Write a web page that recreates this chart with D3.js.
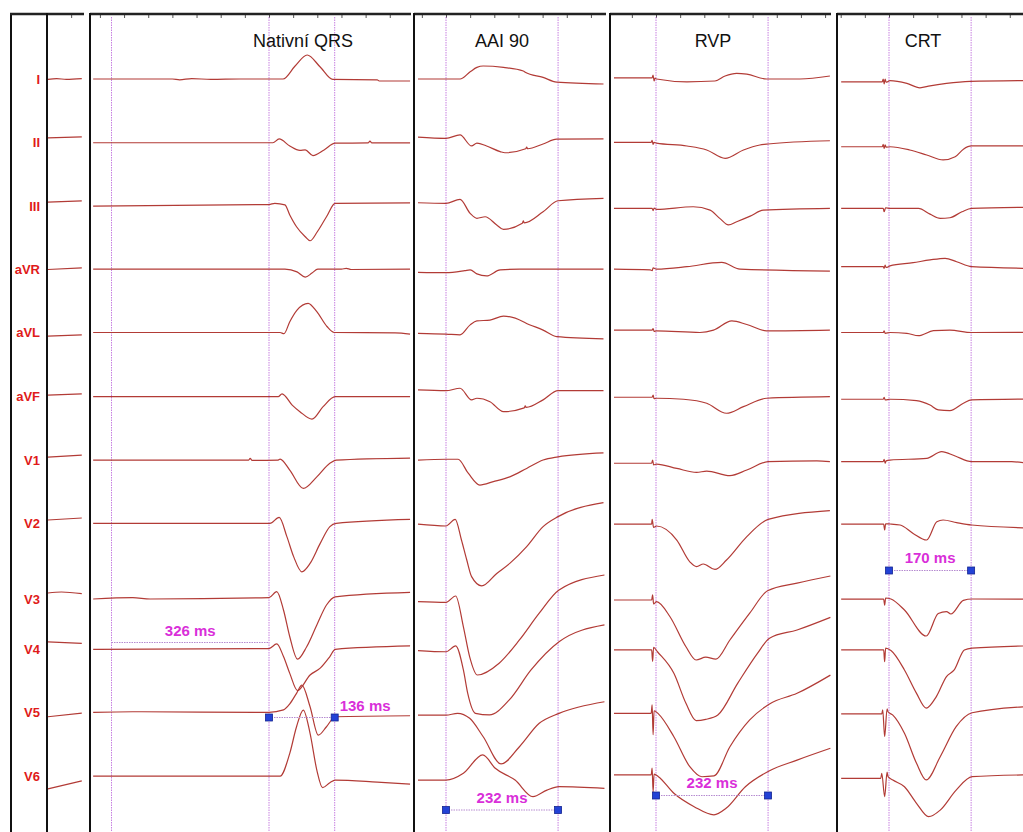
<!DOCTYPE html>
<html>
<head>
<meta charset="utf-8">
<script src="https://cdn.jsdelivr.net/npm/d3@7"></script>
<style>
  body { margin: 0; background: #fff; }
  svg { display: block; }
</style>
</head>
<body>
<svg id="chart" width="1023" height="832"></svg>
<script>
// ---- data -------------------------------------------------------------
// Lead names, top to bottom
const leads = ["I", "II", "III", "aVR", "aVL", "aVF", "V1", "V2", "V3", "V4", "V5", "V6"];

// Panel headings (first panel is the short rhythm strip, untitled)
const panelTitles = ["", "Nativní QRS", "AAI 90", "RVP", "CRT"];

// Each trace: [time in ms, amplitude in mV], one trace per lead, in lead order
const rhythmStrip = [
  [[2, -0.01], [20, 0.01], [40, -0.01], [72, 0.01]],
  [[2, 0.11], [72, 0.135]],
  [[2, 0.09], [72, 0.12]],
  [[2, -0.01], [72, 0.03]],
  [[2, -0.09], [72, -0.06]],
  [[2, 0.02], [72, 0.05]],
  [[2, 0.055], [72, 0.105]],
  [[2, 0.065], [72, 0.115]],
  [[2, -0.175], [30, -0.15], [72, -0.19]],
  [[2, 0.185], [72, 0.15]],
  [[2, -0.1], [72, -0.01]],
  [[2, -0.32], [72, -0.12]]
];

const nativeQRS = [
  [[-364, 0], [-200, 0], [-185, -0.02], [-160, 0.01], [-120, -0.01], [-60, 0], [29, 0], [54, 0.325], [79, 0.6], [106, 0.3], [132, -0.01], [224, -0.02], [228, -0.05], [292, -0.05]],
  [[-364, -0.01], [8, -0.01], [21, 0.085], [43, -0.09], [64, -0.2], [75, -0.19], [91, -0.33], [114, -0.19], [137, -0.02], [205, -0.015], [209, 0.03], [213, -0.015], [292, -0.015]],
  [[-364, -0.01], [0, 0.03], [12, 0.06], [33, 0.02], [43, -0.23], [57, -0.525], [75, -0.775], [85, -0.875], [100, -0.65], [119, -0.275], [137, 0.06], [292, 0.07]],
  [[-364, 0], [33, 0], [58, -0.07], [75, -0.2], [89, -0.1], [101, 0], [150, 0], [160, 0.02], [170, -0.01], [292, 0]],
  [[-364, 0], [23, 0], [31, -0.03], [43, 0.27], [58, 0.56], [81, 0.73], [99, 0.52], [120, 0.15], [135, 0], [261, -0.01], [292, -0.04]],
  [[-364, -0.02], [19, -0.02], [27, 0.05], [48, -0.23], [64, -0.395], [89, -0.58], [112, -0.27], [137, -0.02], [292, -0.02]],
  [[-364, -0.02], [-42, -0.02], [-39, 0.02], [-35, -0.03], [19, -0.02], [23, 0.005], [43, -0.27], [71, -0.73], [99, -0.44], [126, -0.1], [139, -0.02], [292, 0.03]],
  [[-364, -0.02], [2, -0.02], [21, 0.13], [37, -0.35], [51, -0.85], [68, -1.23], [85, -1.02], [106, -0.52], [126, -0.1], [139, -0.02], [292, 0.08]],
  [[-364, -0.325], [-282, -0.29], [-246, -0.325], [0, -0.29], [16, -0.14], [30, -0.6], [43, -1.27], [59, -1.83], [78, -1.52], [99, -0.975], [119, -0.475], [137, -0.27], [292, -0.16]],
  [[-364, 0], [0, 0.02], [16, 0.135], [30, -0.18], [43, -0.6], [59, -1.03], [85, -0.64], [106, -0.47], [126, -0.18], [137, 0], [292, 0.085]],
  [[-364, 0.01], [-282, 0.025], [0, 0.01], [30, 0.07], [43, 0.22], [57, 0.485], [68, 0.69], [85, 0.15], [102, -0.56], [119, -0.35], [137, -0.1], [292, -0.075]],
  [[-364, 0], [23, 0], [43, 0.57], [57, 1.235], [71, 1.65], [85, 1.07], [99, 0.15], [111, -0.29], [126, -0.165], [137, -0.1], [224, -0.15], [292, -0.2]]
];

const aai90 = [
  [[-58, 0], [0, 0], [29, 0], [50, 0.18], [64, 0.29], [77, 0.325], [119, 0.29], [160, 0.2], [164, 0.17], [201, 0.04], [229, -0.08], [326, -0.125]],
  [[-58, 0.13], [0, 0.1], [29, 0.185], [53, -0.09], [64, -0.02], [84, -0.09], [112, -0.23], [122, -0.26], [165, -0.16], [167, -0.12], [169, -0.16], [201, -0.04], [229, 0.08], [326, 0.085]],
  [[-58, 0.075], [0, 0.06], [29, 0.16], [50, -0.19], [64, -0.315], [81, -0.275], [105, -0.48], [119, -0.59], [158, -0.44], [160, -0.38], [162, -0.43], [201, -0.15], [232, 0.125], [326, 0.185]],
  [[-58, -0.08], [0, -0.09], [39, -0.04], [50, -0.02], [64, -0.12], [84, -0.17], [112, -0.02], [153, 0], [326, 0]],
  [[-58, -0.02], [0, -0.04], [29, -0.06], [50, 0.19], [64, 0.29], [91, 0.31], [119, 0.41], [160, 0.27], [164, 0.245], [201, 0.06], [229, -0.105], [326, -0.16]],
  [[-58, 0.15], [0, 0.13], [29, 0.19], [53, -0.1], [64, -0.06], [91, -0.145], [119, -0.395], [162, -0.3], [164, -0.25], [166, -0.29], [201, -0.1], [232, 0.13], [326, 0.13]],
  [[-58, -0.02], [0, 0], [25, 0], [46, -0.35], [70, -0.645], [98, -0.56], [132, -0.44], [167, -0.23], [201, -0.02], [232, 0.06], [326, 0.16]],
  [[-58, -0.04], [0, -0.085], [19, 0.08], [32, -0.435], [43, -0.935], [53, -1.35], [74, -1.58], [105, -1.27], [132, -1.02], [167, -0.6], [201, -0.1], [232, 0.15], [326, 0.5]],
  [[-58, -0.39], [0, -0.41], [20, -0.25], [36, -1.02], [49, -1.77], [65, -2.225], [110, -1.93], [152, -1.35], [193, -0.68], [234, -0.1], [328, 0.275]],
  [[-58, -0.03], [0, -0.06], [20, 0.085], [36, -0.515], [45, -1.1], [61, -1.6], [90, -1.64], [131, -1.265], [176, -0.515], [234, 0.19], [328, 0.61]],
  [[-58, -0.06], [0, -0.06], [24, -0.015], [49, -0.14], [77, -0.6], [114, -1.28], [152, -0.85], [193, -0.265], [234, -0.015], [328, 0.275]],
  [[-58, -0.1], [0, -0.1], [36, 0.07], [76, 0.53], [102, 0.195], [143, -0.1], [180, -0.515], [209, -0.35], [234, -0.265], [328, -0.305]]
];

const rvp = [
  [[-87, 0.03], [-8, 0.03], [-6, 0.1], [-4, -0.05], [-2, 0.02], [1, 0], [64, -0.07], [122, -0.05], [143, 0.075], [167, 0.14], [188, 0.12], [229, 0], [298, 0], [360, 0.075]],
  [[-87, 0], [-10, 0], [-8, 0.05], [-6, -0.05], [-4, 0], [1, -0.02], [64, -0.09], [105, -0.19], [143, -0.4], [181, -0.19], [215, -0.065], [232, -0.04], [360, 0.04]],
  [[-87, -0.065], [-8, -0.065], [-6, -0.12], [-4, -0.06], [1, -0.09], [77, -0.025], [112, -0.11], [132, -0.315], [150, -0.48], [167, -0.4], [195, -0.26], [222, -0.11], [360, -0.065]],
  [[-87, 0], [-12, -0.02], [-8, -0.04], [-6, 0.03], [1, 0], [64, 0.06], [136, 0.17], [174, 0], [360, -0.05]],
  [[-87, 0.06], [-8, 0.06], [-6, 0.1], [-4, 0.03], [1, 0.04], [91, 0], [119, 0.06], [157, 0.29], [188, 0.2], [229, 0.04], [360, 0.06]],
  [[-87, -0.035], [-8, -0.035], [-6, 0.02], [-4, -0.07], [1, -0.06], [57, -0.085], [105, -0.185], [146, -0.435], [181, -0.27], [229, -0.06], [360, -0.02]],
  [[-87, -0.1], [-9, -0.1], [-7, -0.02], [-5, -0.14], [1, -0.12], [43, -0.23], [84, -0.33], [105, -0.295], [153, -0.41], [188, -0.27], [232, -0.06], [333, -0.04], [360, -0.06]],
  [[-87, -0.04], [-9, -0.04], [-8, 0.08], [-5, -0.12], [1, -0.085], [43, -0.435], [70, -0.98], [84, -1.1], [98, -1.035], [122, -1.17], [146, -0.935], [188, -0.35], [232, 0.08], [360, 0.3]],
  [[-87, -0.35], [-9, -0.35], [-7, -0.22], [-5, -0.45], [1, -0.39], [29, -0.77], [62, -1.52], [83, -1.85], [103, -1.78], [124, -1.83], [153, -1.35], [194, -0.68], [231, -0.12], [292, 0.07], [361, 0.25]],
  [[-87, -0.015], [-9, -0.015], [-7, -0.3], [-5, 0.05], [3, -0.06], [37, -0.6], [62, -1.35], [83, -1.78], [103, -1.75], [128, -1.64], [169, -0.85], [210, -0.1], [235, 0.28], [292, 0.485], [361, 0.8]],
  [[-87, -0.015], [-10, -0.015], [-8, 0.2], [-6, -0.55], [-4, 0.05], [5, -0.03], [37, -0.6], [70, -1.35], [95, -1.6], [120, -1.58], [153, -0.85], [194, -0.18], [235, 0.22], [292, 0.485], [361, 0.94]],
  [[-87, 0.03], [-10, 0.03], [-8, 0.2], [-6, -0.4], [-4, 0.05], [5, -0.015], [37, -0.43], [79, -0.765], [120, -0.97], [145, -0.805], [185, -0.265], [235, 0.135], [292, 0.4], [361, 0.695]]
];

const crt = [
  [[-99, -0.07], [-14, -0.07], [-12, 0], [-10, -0.12], [-8, 0], [-6, -0.08], [2, -0.04], [37, -0.11], [64, -0.22], [85, -0.17], [119, -0.11], [168, -0.06], [280, -0.04]],
  [[-99, -0.11], [-14, -0.11], [-12, -0.05], [-10, -0.15], [-8, -0.06], [-6, -0.12], [2, -0.11], [43, -0.19], [78, -0.315], [112, -0.44], [137, -0.36], [154, -0.17], [171, -0.09], [280, -0.09]],
  [[-99, -0.065], [-12, -0.065], [-10, -0.15], [-7, -0.05], [2, -0.065], [61, -0.065], [85, -0.21], [106, -0.315], [126, -0.3], [151, -0.15], [171, -0.065], [280, -0.04]],
  [[-99, 0.06], [-12, 0.06], [-10, 0.02], [-8, 0.1], [-6, 0.04], [2, 0.08], [50, 0.16], [85, 0.23], [116, 0.27], [140, 0.185], [171, 0.06], [280, 0.02]],
  [[-99, 0], [-12, 0], [-10, 0.04], [-8, -0.02], [2, 0], [37, -0.02], [61, -0.08], [92, 0.045], [126, 0.06], [171, 0], [280, 0.005]],
  [[-99, -0.085], [-12, -0.085], [-10, -0.04], [-8, -0.1], [2, -0.085], [57, -0.12], [85, -0.23], [102, -0.35], [126, -0.37], [154, -0.185], [171, -0.1], [280, -0.08]],
  [[-99, -0.06], [-12, -0.06], [-10, 0], [-8, -0.1], [-6, -0.04], [2, -0.02], [78, 0.02], [109, 0.19], [137, 0.08], [171, -0.06], [254, -0.06], [280, -0.09]],
  [[-99, -0.04], [-11, -0.04], [-9, -0.185], [-7, -0.03], [2, -0.035], [23, -0.06], [50, -0.27], [78, -0.435], [99, 0.02], [112, 0.065], [140, 0], [171, -0.06], [280, -0.13]],
  [[-99, -0.33], [-11, -0.33], [-9, -0.48], [-7, -0.3], [4, -0.325], [32, -0.6], [77, -1.25], [102, -0.69], [119, -0.64], [128, -0.7], [154, -0.36], [172, -0.325], [280, -0.33]],
  [[-99, -0.015], [-11, -0.015], [-9, -0.31], [-7, 0.03], [4, -0.03], [32, -0.515], [57, -1.1], [77, -1.47], [98, -1.18], [119, -0.68], [135, -0.515], [156, -0.015], [172, 0.03], [280, 0.085]],
  [[-99, -0.03], [-15, -0.03], [-13, 0.07], [-9, -0.6], [-4, 0.1], [-2, 0.025], [8, -0.06], [32, -0.515], [57, -1.265], [77, -1.68], [106, -1.1], [139, -0.35], [172, 0], [280, 0.15]],
  [[-99, -0.055], [-17, -0.055], [-15, 0.07], [-9, -0.515], [-4, 0.1], [-2, -0.015], [8, -0.1], [32, -0.265], [57, -0.68], [82, -1.015], [106, -0.85], [139, -0.35], [172, -0.015], [280, 0.03]]
];

// Cursor times (ms) per panel and measured intervals [start, end] in ms
const cursorTimes = [[], [-326, 0, 136], [0, 232], [0, 232], [0, 170]];
const intervals = [[], [[-326, 0], [0, 136]], [[0, 232]], [[0, 232]], [[0, 170]]];

// ---- layout -----------------------------------------------------------
const MS_PER_PX = 2.07;
const TOP = 14;
const H = 832;
const panels = [
  { left: 47, right: 84, origin: 47, traces: rhythmStrip },
  { left: 90, right: 411, origin: 269, traces: nativeQRS },
  { left: 414, right: 606, origin: 446, traces: aai90 },
  { left: 610, right: 831, origin: 656, traces: rvp },
  { left: 837, right: 1023, origin: 889, traces: crt }
];
const titleX = [0, 303, 502, 713, 923];
// Placement of each interval annotation: line y, label y, label anchor, end markers
const intervalStyle = [
  [],
  [{ y: 642.5, ly: 636, anchor: "middle", boxes: false },
   { y: 717.5, ly: 711, anchor: "start", boxes: true }],
  [{ y: 810, ly: 803, anchor: "middle", boxes: true }],
  [{ y: 795.5, ly: 788, anchor: "middle", boxes: true }],
  [{ y: 570.5, ly: 563, anchor: "middle", boxes: true }]
];

const TRACE = "#b23b36";
const LEAD_RED = "#e01a1a";
const CURSOR = "#c77fe0";
const MAGENTA = "#d92fd9";
const BOX = "#2342d6";

const svg = d3.select("#chart");

const row = d3.scalePoint().domain(leads).range([79, 776.1]);
const amp = d3.scaleLinear().domain([0, 1]).range([0, -40]);

panels.forEach(p => {
  p.x = d3.scaleLinear()
    .domain([(p.left - p.origin) * MS_PER_PX, (p.right - p.origin) * MS_PER_PX])
    .range([p.left, p.right]);
});

// frame of the lead-label column
const frameG = svg.append("g");
frameG.append("line").attr("x1", 11).attr("x2", 11).attr("y1", TOP - 1).attr("y2", H)
  .attr("stroke", "#111").attr("stroke-width", 2);
frameG.append("line").attr("x1", 10).attr("x2", 47).attr("y1", TOP).attr("y2", TOP)
  .attr("stroke", "#222").attr("stroke-width", 2.5);

panels.forEach((p, pi) => {
  const g = svg.append("g");
  // tick marks along the top edge
  const [d0, d1] = p.x.domain();
  const step = 50;
  const ticks = d3.range(Math.ceil(d0 / step) * step, d1 + 0.01, step);
  const axis = d3.axisBottom(p.x).tickValues(ticks).tickFormat("").tickSize(4).tickSizeOuter(0);
  const ax = g.append("g").attr("transform", `translate(0,${TOP})`).call(axis);
  ax.select(".domain").remove();
  ax.selectAll(".tick line").attr("stroke", "#555").attr("stroke-width", 1);
  g.append("line").attr("x1", p.left).attr("x2", p.right).attr("y1", TOP).attr("y2", TOP)
    .attr("stroke", "#222").attr("stroke-width", 2.5);
  g.append("line").attr("x1", p.left).attr("x2", p.left).attr("y1", TOP - 1).attr("y2", H)
    .attr("stroke", "#111").attr("stroke-width", 2);

  // cursor lines
  g.selectAll(".cursor").data(cursorTimes[pi]).join("line")
    .attr("class", "cursor")
    .attr("x1", d => p.x(d)).attr("x2", d => p.x(d))
    .attr("y1", TOP + 3).attr("y2", H)
    .attr("stroke", CURSOR).attr("stroke-width", 1).attr("stroke-dasharray", "1.5,1");

  // traces
  const line = d3.line().curve(d3.curveMonotoneX);
  p.traces.forEach((tr, li) => {
    const base = row(leads[li]);
    g.append("path")
      .attr("d", line(tr.map(d => [p.x(d[0]), base + amp(d[1])])))
      .attr("fill", "none").attr("stroke", TRACE).attr("stroke-width", 1.2)
      .attr("stroke-linejoin", "round");
  });

  // title
  if (panelTitles[pi]) {
    g.append("text").attr("x", titleX[pi]).attr("y", 47)
      .attr("text-anchor", "middle")
      .attr("font-family", "Liberation Sans, Arial, sans-serif")
      .attr("font-size", 18).attr("fill", "#111").text(panelTitles[pi]);
  }

  // interval measurements
  intervals[pi].forEach((iv, k) => {
    const st = intervalStyle[pi][k];
    const xa = p.x(iv[0]), xb = p.x(iv[1]);
    g.append("line").attr("x1", xa).attr("x2", xb).attr("y1", st.y).attr("y2", st.y)
      .attr("stroke", "#b58ad0").attr("stroke-width", 1).attr("stroke-dasharray", "1.5,1");
    if (st.boxes) {
      [xa, xb].forEach(xx => {
        g.append("rect").attr("x", xx - 3.5).attr("y", st.y - 3.5).attr("width", 7).attr("height", 7)
          .attr("fill", BOX).attr("stroke", "#14258f").attr("stroke-width", 0.8);
      });
    }
    const lx = st.anchor === "middle" ? (xa + xb) / 2 : xb + 5;
    g.append("text").attr("x", lx).attr("y", st.ly)
      .attr("text-anchor", st.anchor)
      .attr("font-family", "Liberation Sans, Arial, sans-serif")
      .attr("font-weight", "bold").attr("font-size", 15)
      .attr("fill", MAGENTA).text(`${iv[1] - iv[0]} ms`);
  });
});

// lead labels, placed at each lead's level in the first full panel
svg.append("g").selectAll("text").data(leads).join("text")
  .attr("x", 40)
  .attr("y", (d, i) => row(d) + amp(nativeQRS[i][0][1]))
  .attr("dy", "0.35em")
  .attr("text-anchor", "end")
  .attr("font-family", "Liberation Sans, Arial, sans-serif")
  .attr("font-weight", "bold").attr("font-size", 13)
  .attr("fill", LEAD_RED).text(d => d);
</script>
</body>
</html>
